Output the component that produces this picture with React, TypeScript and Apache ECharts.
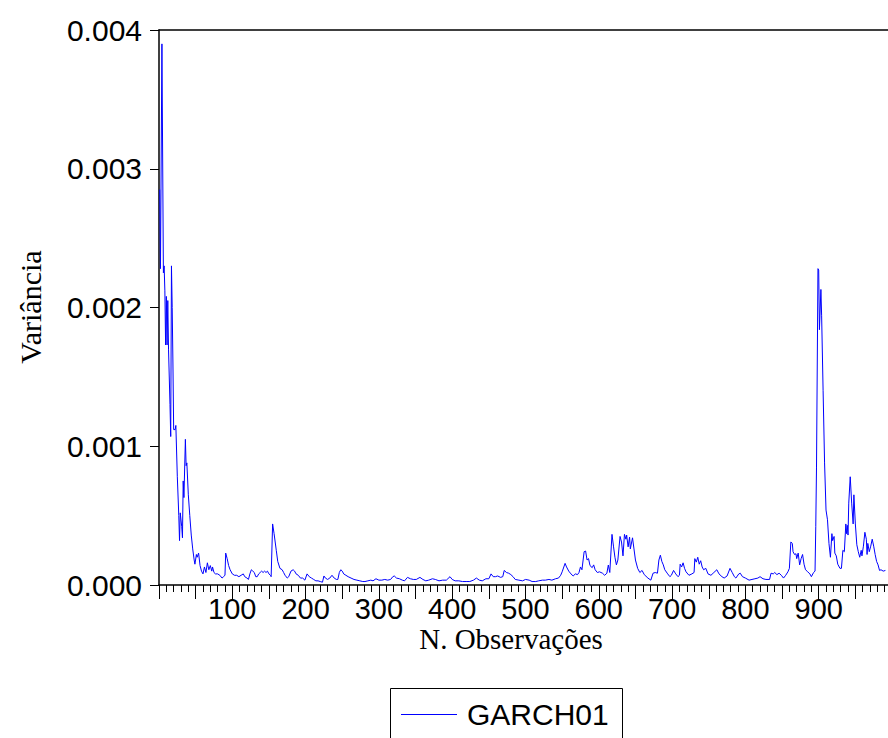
import React, { useEffect, useRef } from "react";
import * as echarts from "echarts";

const seriesName = "GARCH01";
const xAxisTitle = "N. Observações";
const yAxisTitle = "Variância";

const observations = [
  1, 2, 4, 6, 7, 8, 9, 10, 11, 12, 13, 15, 16, 17, 18, 19, 20, 22, 23, 25, 27, 28, 29, 31, 32, 33, 34, 36, 37, 38,
  40, 42, 44, 46, 48, 49, 51, 52, 54, 56, 58, 60, 62, 64, 66, 68, 70, 72, 73, 75, 77, 80, 83, 86, 88, 90, 91, 93, 95, 97,
  100, 103, 106, 109, 112, 115, 117, 120, 122, 124, 126, 128, 130, 132, 134, 136, 138, 140, 142, 144, 146, 148, 150, 152, 153, 155, 157, 160, 162, 165,
  168, 170, 172, 175, 177, 180, 183, 185, 187, 190, 193, 196, 199, 202, 205, 208, 211, 214, 217, 220, 223, 225, 227, 230, 233, 236, 239, 242, 244, 246,
  248, 250, 252, 255, 258, 262, 266, 270, 274, 278, 281, 285, 289, 292, 296, 300, 304, 308, 312, 316, 319, 321, 324, 328, 332, 335, 339, 343, 347, 351,
  356, 360, 364, 368, 373, 377, 382, 387, 392, 397, 400, 404, 409, 414, 419, 424, 429, 433, 437, 441, 446, 450, 453, 456, 459, 462, 466, 469, 471, 474,
  477, 480, 483, 486, 491, 496, 500, 505, 509, 514, 518, 523, 527, 532, 536, 541, 545, 548, 550, 554, 556, 559, 562, 565, 568, 571, 573, 575, 577, 580,
  582, 584, 586, 588, 591, 593, 595, 598, 601, 605, 608, 611, 613, 615, 618, 620, 622, 624, 626, 629, 631, 633, 635, 637, 638, 640, 642, 643, 646, 648,
  650, 653, 656, 659, 662, 667, 671, 674, 677, 680, 682, 684, 686, 688, 690, 694, 697, 699, 702, 705, 708, 710, 711, 713, 715, 717, 719, 723, 727, 730,
  731, 733, 735, 737, 739, 741, 743, 746, 749, 753, 757, 761, 764, 768, 771, 775, 779, 782, 785, 787, 791, 793, 796, 800, 805, 809, 813, 817, 820, 824,
  828, 833, 835, 838, 840, 843, 846, 849, 852, 855, 858, 860, 862, 864, 865, 867, 869, 870, 872, 874, 876, 878, 880, 882, 885, 888, 890, 893, 895, 896,
  897, 899, 900, 901, 903, 904, 906, 908, 910, 912, 914, 916, 918, 919, 921, 922, 924, 926, 929, 931, 933, 935, 937, 938, 939, 940, 941, 943, 945, 947,
  948, 950, 952, 954, 956, 958, 959, 961, 963, 965, 966, 967, 969, 971, 973, 975, 977, 979, 981, 983, 985, 988, 991,
];

// conditional variance
const variance = [
  0.00285, 0.00228, 0.0039, 0.00225, 0.0023, 0.00212, 0.00173, 0.00208, 0.00173, 0.00205, 0.0017, 0.0013, 0.00107, 0.0023, 0.002, 0.0016, 0.00112, 0.00112, 0.00115, 0.00078, 0.0005, 0.00032, 0.00052, 0.00042, 0.00034, 0.00075, 0.00063, 0.00105, 0.00086, 0.00088,
  0.00065, 0.0005, 0.00036, 0.00026, 0.00018, 0.00015, 0.00022, 0.0002, 0.00023, 0.00014, 0.0001, 0.00008, 0.00013, 0.00009, 0.00016, 0.00011, 0.00014, 0.0001, 0.00013, 0.00009, 0.00008, 0.00008, 0.00007, 0.00005, 0.00006, 0.00007, 0.00023, 0.00019, 0.00014, 0.00011,
  0.00008, 0.00007, 0.00007, 0.00006, 0.00007, 0.00008, 0.00006, 0.00005, 0.00004, 0.00008, 0.00011, 0.0001, 0.00009, 0.00006, 0.00006, 0.00008, 0.00009, 0.0001, 0.00009, 0.0001, 0.00009, 0.0001, 0.00008, 0.00007, 0.00006, 0.00044, 0.00037, 0.00025, 0.00017, 0.00012,
  0.00011, 0.00009, 0.00007, 0.00005, 0.00006, 0.0001, 0.00011, 0.0001, 0.00008, 0.00007, 0.00005, 0.00005, 0.000035, 0.00008, 0.00006, 0.00005, 0.00004, 0.00003, 0.00003, 0.000025, 0.00002, 0.000065, 0.00005, 0.00004, 0.00005, 0.00007, 0.00005, 0.00004, 0.00004, 0.00009,
  0.00011, 0.0001, 0.00008, 0.00007, 0.00006, 0.00005, 0.00004, 0.000035, 0.00003, 0.000025, 0.000025, 0.00003, 0.000035, 0.00003, 0.000045, 0.000035, 0.000035, 0.00004, 0.000035, 0.00004, 0.00006, 0.000065, 0.00005, 0.000045, 0.000035, 0.00003, 0.000055, 0.000045, 0.00004, 0.00004,
  0.000055, 0.00004, 0.00003, 0.000035, 0.000045, 0.00004, 0.00003, 0.000035, 0.000035, 0.00006, 0.00004, 0.00003, 0.00003, 0.000025, 0.000025, 0.000025, 0.000035, 0.00005, 0.000035, 0.00003, 0.000045, 0.000045, 0.00008, 0.00006, 0.00006, 0.000065, 0.000055, 0.00006, 0.000105, 0.00009,
  0.000085, 0.000075, 0.00006, 0.00004, 0.000035, 0.00003, 0.00004, 0.000035, 0.000025, 0.000025, 0.00003, 0.000035, 0.000035, 0.00004, 0.000035, 0.000045, 0.00005, 0.00007, 0.000095, 0.000156, 0.00013, 0.0001, 0.00008, 0.000065, 0.00008, 0.000075, 0.00009, 0.00013, 0.00011, 0.00024,
  0.000245, 0.00018, 0.00019, 0.00014, 0.000125, 0.000145, 0.00011, 0.00009, 0.000095, 0.000085, 0.00007, 0.000085, 0.000144, 0.00009, 0.000365, 0.00028, 0.0002, 0.000145, 0.00018, 0.00035, 0.00031, 0.00021, 0.000365, 0.00033, 0.00036, 0.000275, 0.000345, 0.00026, 0.00034, 0.00026,
  0.00018, 0.00012, 0.00009, 0.000105, 0.000075, 0.00005, 0.000035, 0.000085, 0.00009, 0.000085, 0.00018, 0.000215, 0.00017, 0.000145, 0.00011, 0.00008, 0.00006, 0.00007, 0.000105, 0.00008, 0.00006, 0.00007, 0.00015, 0.00013, 0.00016, 0.00012, 0.000095, 0.00007, 0.00008, 0.00009,
  0.00019, 0.000165, 0.0002, 0.00015, 0.000175, 0.00013, 0.00011, 0.00012, 0.00008, 0.00007, 0.00009, 0.00011, 0.00008, 0.00006, 0.00005, 0.000065, 0.00012, 0.00009, 0.00006, 0.00005, 0.00008, 0.000085, 0.00006, 0.00005, 0.000035, 0.00004, 0.000045, 0.00005, 0.00006, 0.000045,
  0.00004, 0.00004, 0.000085, 0.00008, 0.00009, 0.000075, 0.000085, 0.00007, 0.00005, 0.00007, 0.000095, 0.00012, 0.00031, 0.0003, 0.00024, 0.00022, 0.000225, 0.00019, 0.00023, 0.000145, 0.00019, 0.00022, 0.00015, 0.00011, 0.000095, 0.00008, 0.00006, 0.00009, 0.0001, 0.00042,
  0.00085, 0.00228, 0.00227, 0.00184, 0.00213, 0.00194, 0.0014, 0.00088, 0.00054, 0.00047, 0.0003, 0.0002, 0.00037, 0.00032, 0.00035, 0.00023, 0.00021, 0.00015, 0.00012, 0.00012, 0.00025, 0.00024, 0.00044, 0.00037, 0.00043, 0.00036, 0.00059, 0.00078, 0.00059, 0.00044,
  0.00065, 0.00044, 0.00029, 0.00024, 0.0002, 0.00025, 0.00021, 0.00028, 0.00038, 0.00033, 0.00022, 0.0003, 0.00024, 0.00028, 0.00033, 0.00028, 0.00022, 0.00017, 0.000145, 0.000105, 0.00011, 0.0001, 0.000105,
];

const xMin = 0;
const xMax = 1000;
const xInterval = 50;
const xLabelStep = 100;
const yMin = 0;
const yMax = 0.004;
const yInterval = 0.001;

const SANS = "Liberation Sans, Arial, sans-serif";
const SERIF = "Liberation Serif, Times New Roman, serif";

export default function App() {
  const ref = useRef<HTMLDivElement>(null);

  useEffect(() => {
    if (!ref.current) return;
    const chart = echarts.init(ref.current, null, { renderer: "svg" });
    const data = observations.map((o, i) => [o, variance[i]]);
    chart.setOption({
      animation: false,
      backgroundColor: "#ffffff",
      grid: { left: 159, top: 30, right: 0, bottom: 153, containLabel: false },
      xAxis: [
        {
          type: "value",
          min: xMin,
          max: xMax,
          interval: xInterval,
          axisLine: { show: true, lineStyle: { color: "#000", width: 1.5 } },
          axisTick: { show: true, inside: false, length: 14, lineStyle: { color: "#000", width: 1 } },
          minorTick: { show: true, splitNumber: 5, length: 7, lineStyle: { color: "#000", width: 1 } },
          splitLine: { show: false },
          minorSplitLine: { show: false },
          axisLabel: {
            show: true,
            margin: 13,
            color: "#000",
            fontFamily: SANS,
            fontSize: 29,
            lineHeight: 22,
            formatter: (v: number) => (v > 0 && v < xMax && v % xLabelStep === 0 ? String(v) : ""),
          },
        },
        {
          type: "value",
          position: "top",
          min: xMin,
          max: xMax,
          interval: xInterval,
          axisLine: { show: true, lineStyle: { color: "#000", width: 1.5 } },
          axisTick: { show: false },
          axisLabel: { show: false },
          splitLine: { show: false },
        },
      ],
      yAxis: {
        type: "value",
        min: yMin,
        max: yMax,
        interval: yInterval,
        axisLine: { show: true, lineStyle: { color: "#000", width: 1.5 } },
        axisTick: { show: true, length: 9, lineStyle: { color: "#000", width: 1 } },
        splitLine: { show: false },
        axisLabel: {
          margin: 17,
          color: "#000",
          fontFamily: SANS,
          fontSize: 30,
          formatter: (v: number) => v.toFixed(3),
        },
      },
      series: [
        {
          name: seriesName,
          type: "line",
          xAxisIndex: 0,
          data,
          showSymbol: false,
          symbol: "none",
          lineStyle: { color: "#0000ff", width: 1 },
          itemStyle: { color: "#0000ff" },
        },
      ],
      graphic: [
        {
          type: "text",
          x: 511,
          y: 639,
          style: {
            text: xAxisTitle,
            fontFamily: SERIF,
            fontSize: 29,
            lineHeight: 24,
            fill: "#000",
            textAlign: "center",
            textVerticalAlign: "middle",
          },
        },
        {
          type: "text",
          x: 30,
          y: 307,
          rotation: Math.PI / 2,
          style: {
            text: yAxisTitle,
            fontFamily: SERIF,
            fontSize: 30,
            fill: "#000",
            textAlign: "center",
            textVerticalAlign: "middle",
          },
        },
        {
          type: "rect",
          shape: { x: 390.5, y: 688.5, width: 232, height: 80 },
          style: { fill: "#fff", stroke: "#000", lineWidth: 1 },
        },
        {
          type: "line",
          shape: { x1: 401, y1: 714.5, x2: 457, y2: 714.5 },
          style: { stroke: "#0000ff", lineWidth: 1 },
        },
        {
          type: "text",
          x: 467,
          y: 714,
          style: {
            text: seriesName,
            fontFamily: SANS,
            fontSize: 30,
            fill: "#000",
            textAlign: "left",
            textVerticalAlign: "middle",
          },
        },
      ],
    });
    return () => chart.dispose();
  }, []);

  return (
    <div
      ref={ref}
      style={{ position: "fixed", left: 0, top: 0, width: 895, height: 738 }}
    />
  );
}
